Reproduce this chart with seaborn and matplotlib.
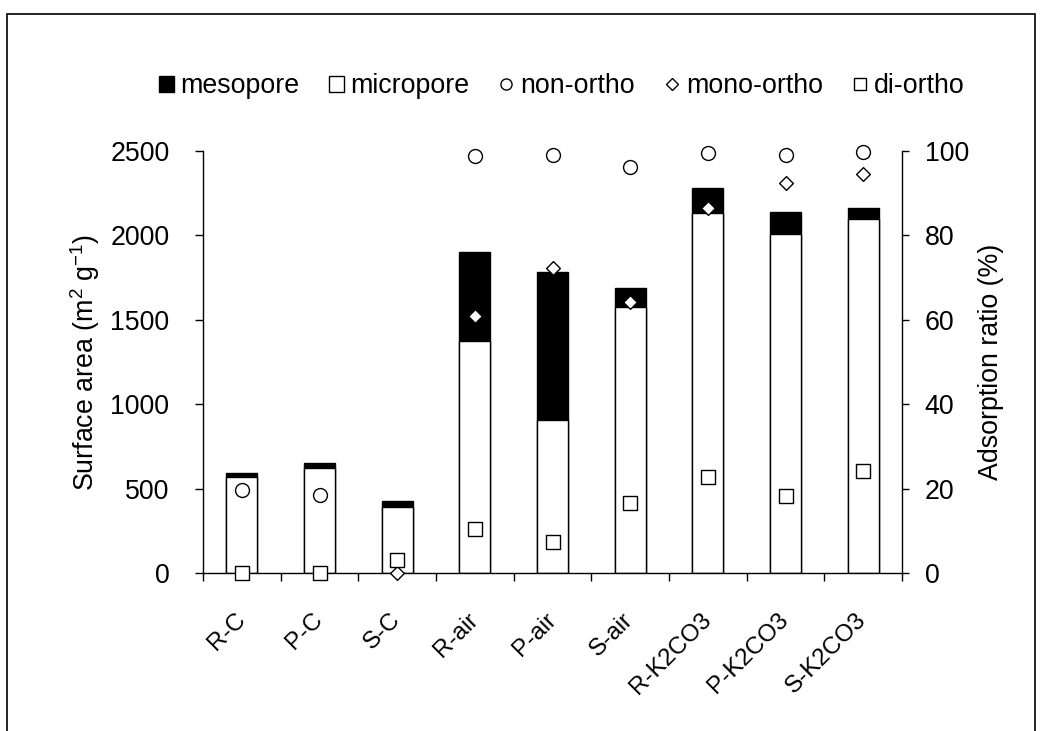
import numpy as np
import pandas as pd
import matplotlib
matplotlib.use("Agg")
import matplotlib.pyplot as plt
import seaborn as sns
from matplotlib.patches import Patch, Rectangle
from matplotlib.lines import Line2D

# Samples and pore surface areas (m2/g)
samples = ["R-C", "P-C", "S-C", "R-air", "P-air", "S-air", "R-K2CO3", "P-K2CO3", "S-K2CO3"]
micropore = [572, 622, 395, 1376, 905, 1576, 2130, 2010, 2095]
mesopore = [20, 30, 33, 525, 880, 114, 150, 130, 65]

# Adsorption ratios (%) of the PCB congener groups
non_ortho = [19.7, 18.5, np.nan, 98.7, 99.0, 96.1, 99.4, 99.1, 99.8]
mono_ortho = [0.0, 0.0, 0.0, 60.9, 72.2, 64.3, 86.5, 92.4, 94.4]
di_ortho = [0.0, 0.0, 3.1, 10.6, 7.3, 16.6, 22.9, 18.4, 24.3]

area_ticks = [0, 500, 1000, 1500, 2000, 2500]
ratio_ticks = [0, 20, 40, 60, 80, 100]

sns.set_theme(style="ticks")
plt.rcParams["font.family"] = ["Liberation Sans", "DejaVu Sans"]
plt.rcParams["mathtext.fontset"] = "custom"
plt.rcParams["mathtext.rm"] = "Liberation Sans"
plt.rcParams["mathtext.it"] = "Liberation Sans:italic"
plt.rcParams["mathtext.bf"] = "Liberation Sans:bold"
plt.rcParams["axes.edgecolor"] = "black"
plt.rcParams["xtick.color"] = "black"
plt.rcParams["ytick.color"] = "black"
plt.rcParams["text.color"] = "black"
plt.rcParams["axes.labelcolor"] = "black"

FS = 19.3

df = pd.DataFrame({"sample": samples, "micropore": micropore, "mesopore": mesopore})
df["total"] = df["micropore"] + df["mesopore"]

fig = plt.figure(figsize=(10.54, 7.31), dpi=100)
ax = fig.add_axes([0.1926, 0.2157, 0.6632, 0.5781])

# Stacked bars: full height in black (mesopore), micropore part in white below
sns.barplot(data=df, x="sample", y="total", order=samples, color="black",
            edgecolor="black", linewidth=1.0, width=0.4, saturation=1,
            errorbar=None, ax=ax)
sns.barplot(data=df, x="sample", y="micropore", order=samples, color="white",
            edgecolor="black", linewidth=1.0, width=0.4, saturation=1,
            errorbar=None, ax=ax)

ax2 = ax.twinx()
for vals, mk, sz in [(non_ortho, "o", 10), (mono_ortho, "D", 7), (di_ortho, "s", 10)]:
    sns.stripplot(x=samples, y=vals, order=samples, jitter=False, marker=mk,
                  size=sz, color="white", edgecolor="black", linewidth=1.0, ax=ax2)
for coll in ax2.collections:
    coll.set_clip_on(False)

ax.set_ylim(0, 2500)
ax2.set_ylim(0, 100)
ax.set_xlim(-0.5, 8.5)

ax.set_yticks(area_ticks)
ax.set_yticklabels([str(t) for t in area_ticks], fontsize=FS)
ax2.set_yticks(ratio_ticks)
ax2.set_yticklabels([str(t) for t in ratio_ticks], fontsize=FS)

ax.set_xticks(range(len(samples)))
ax.set_xticklabels(samples, rotation=45, ha="right", va="center",
                   rotation_mode="anchor", fontsize=17.5)
ax.set_xticks(np.arange(-0.5, len(samples), 1.0), minor=True)
ax.tick_params(axis="x", which="major", length=0, pad=31)
ax.tick_params(axis="x", which="minor", length=5.5, width=1.0, direction="out")
ax.tick_params(axis="y", length=5.5, width=1.0, direction="out", pad=18.7)
ax2.tick_params(axis="y", length=4.8, width=1.0, direction="out", pad=11.5)

for a in (ax, ax2):
    a.spines["top"].set_visible(False)
    for s in a.spines.values():
        s.set_linewidth(1.0)
ax.spines["right"].set_visible(False)
ax2.spines["left"].set_visible(False)
ax2.spines["bottom"].set_visible(False)

ax.set_xlabel("")
ax.set_ylabel("Surface area (m$^{2}$ g$^{-1}$)", fontsize=FS)
ax.yaxis.set_label_coords(-0.168, 0.5)
ax.yaxis.label.set_va("center")
ax2.set_ylabel("Adsorption ratio (%)", fontsize=FS)
ax2.yaxis.set_label_coords(1.127, 0.5)
ax2.yaxis.label.set_va("center")

handles = [
    Patch(facecolor="black", edgecolor="black", label="mesopore"),
    Patch(facecolor="white", edgecolor="black", label="micropore"),
    Line2D([], [], ls="none", marker="o", ms=8, mfc="white", mec="black", mew=1.0, label="non-ortho"),
    Line2D([], [], ls="none", marker="D", ms=6.5, mfc="white", mec="black", mew=1.0, label="mono-ortho"),
    Line2D([], [], ls="none", marker="s", ms=8, mfc="white", mec="black", mew=1.0, label="di-ortho"),
]
fig.legend(handles=handles, loc="center", bbox_to_anchor=(0.533, 0.882), ncol=5,
           frameon=False, fontsize=FS, handlelength=0.55, handleheight=0.55,
           handletextpad=0.25, columnspacing=1.1, borderaxespad=0, borderpad=0)

# Outer frame around the chart area
fig.add_artist(Rectangle((0.0064, -0.05), 0.9756, 1.031, transform=fig.transFigure,
                         fill=False, lw=1.2, ec="black"))

fig.savefig("out.png", dpi=100)
